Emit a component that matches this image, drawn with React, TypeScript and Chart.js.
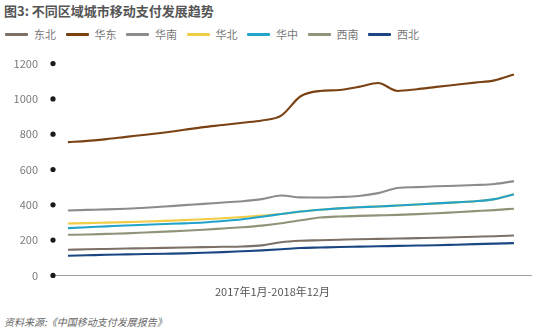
import React, { useEffect, useRef } from "react";
import { Chart, registerables } from "chart.js";

Chart.register(...registerables);

const months = Array.from({ length: 24 }, (_, i) => i);
const seriesNames = ["东北", "华东", "华南", "华北", "华中", "西南", "西北"];
const seriesColors = ["#7d7167", "#7a4213", "#8c8b8e", "#f1cc45", "#21a3cc", "#8f9479", "#1a4682"];

const dongbei = [145, 148, 150, 152, 154, 156, 158, 160, 162, 164, 170, 188, 196, 199, 202, 205, 207, 209, 211, 213, 216, 219, 222, 226];
const huadong = [755, 762, 772, 785, 797, 810, 825, 840, 852, 865, 878, 905, 1015, 1045, 1050, 1068, 1090, 1045, 1055, 1068, 1080, 1092, 1105, 1138];
const huanan = [368, 371, 374, 378, 383, 390, 398, 405, 413, 420, 432, 453, 442, 441, 444, 450, 466, 495, 500, 505, 508, 512, 518, 534];
const huabei = [294, 296, 299, 302, 305, 309, 313, 318, 324, 331, 339, 348, 362, 372, 380, 386, 390, 396, 402, 408, 414, 420, 432, 460];
const huazhong = [268, 273, 278, 283, 287, 291, 295, 300, 308, 318, 332, 348, 362, 372, 380, 386, 390, 396, 402, 408, 414, 420, 432, 460];
const xinan = [230, 232, 235, 238, 243, 248, 253, 259, 266, 273, 282, 295, 312, 328, 334, 337, 340, 343, 347, 352, 358, 364, 370, 378];
const xibei = [111, 114, 117, 119, 121, 123, 125, 128, 132, 137, 142, 148, 155, 158, 161, 163, 165, 167, 169, 171, 174, 177, 180, 183];

const seriesValues = [dongbei, huadong, huanan, huabei, huazhong, xinan, xibei];
const drawOrder = [2, 1, 2, 3, 1, 2, 1];

const yTicks = [0, 200, 400, 600, 800, 1000, 1200];
const xTitle = "2017年1月-2018年12月";
const titleText = "图3: 不同区域城市移动支付发展趋势";
const sourceText = "资料来源:《中国移动支付发展报告》";

const FONT = "'Noto Sans CJK SC', 'Noto Sans', sans-serif";

const dotPlugin = {
  id: "yDots",
  afterDraw(chart: any) {
    const y = chart.scales.y;
    const ctx = chart.ctx;
    ctx.save();
    ctx.fillStyle = "#1a1a1a";
    yTicks.forEach((t) => {
      const py = y.getPixelForValue(t);
      ctx.beginPath();
      ctx.arc(chart.chartArea.left, py, 2.6, 0, Math.PI * 2);
      ctx.fill();
    });
    ctx.restore();
  },
};

export default function App() {
  const ref = useRef<HTMLCanvasElement>(null);
  useEffect(() => {
    if (!ref.current) return;
    const chart = new Chart(ref.current, {
      type: "line",
      data: {
        datasets: seriesNames.map((name, k) => ({
          label: name,
          data: seriesValues[k].map((v, i) => ({ x: months[i], y: v })),
          borderColor: seriesColors[k],
          backgroundColor: seriesColors[k],
          borderWidth: 2.1,
          pointRadius: 0,
          tension: 0.4,
          cubicInterpolationMode: "monotone" as const,
          order: drawOrder[k],
        })),
      },
      options: {
        animation: false,
        responsive: false,
        maintainAspectRatio: false,
        layout: { padding: { top: 5, bottom: 0, left: 0, right: 6 } },
        plugins: { legend: { display: false }, tooltip: { enabled: false } },
        scales: {
          x: {
            type: "linear",
            min: -0.77,
            max: 23.88,
            grid: { display: false },
            ticks: { display: false },
            border: { display: true, color: "#a0a0a0", width: 1 },
            afterFit(scale: any) {
              scale.height = 0;
            },
          },
          y: {
            min: 0,
            max: 1200,
            ticks: {
              stepSize: 200,
              padding: 15,
              color: "#7a7a7a",
              font: { family: FONT, size: 11 },
              callback: (v: any) => String(v),
            },
            grid: { display: false, drawTicks: false },
            border: { display: false },
            afterFit(scale: any) {
              scale.width = 53;
            },
          },
        },
      },
      plugins: [dotPlugin],
    });
    return () => chart.destroy();
  }, []);

  const legendStart = 5;
  const legendPitch = 60.5;

  return (
    <div style={{ position: "fixed", left: 0, top: 0, width: 537, height: 331, background: "#fff", fontFamily: FONT, overflow: "hidden" }}>
      <div style={{ position: "absolute", left: 4, top: 2, fontSize: 13, fontWeight: 700, color: "#555", whiteSpace: "nowrap", lineHeight: "18px" }}>
        {titleText}
      </div>
      {seriesNames.map((name, k) => (
        <div key={name} style={{ position: "absolute", left: legendStart + k * legendPitch, top: 27, height: 14, display: "flex", alignItems: "center", whiteSpace: "nowrap" }}>
          <div style={{ width: 23, height: 3, background: seriesColors[k], borderRadius: 1 }} />
          <span style={{ marginLeft: 6, fontSize: 11, color: "#777", lineHeight: "14px" }}>{name}</span>
        </div>
      ))}
      <canvas ref={ref} width={537} height={255} style={{ position: "absolute", left: 0, top: 42, width: 537, height: 255 }} />
      <div style={{ position: "absolute", left: 0, width: 545, top: 284, textAlign: "center", fontSize: 11, color: "#555", lineHeight: "14px" }}>
        {xTitle}
      </div>
      <div style={{ position: "absolute", left: 4, top: 315, fontSize: 10, fontStyle: "italic", color: "#666", lineHeight: "13px", whiteSpace: "nowrap" }}>
        {sourceText}
      </div>
    </div>
  );
}
